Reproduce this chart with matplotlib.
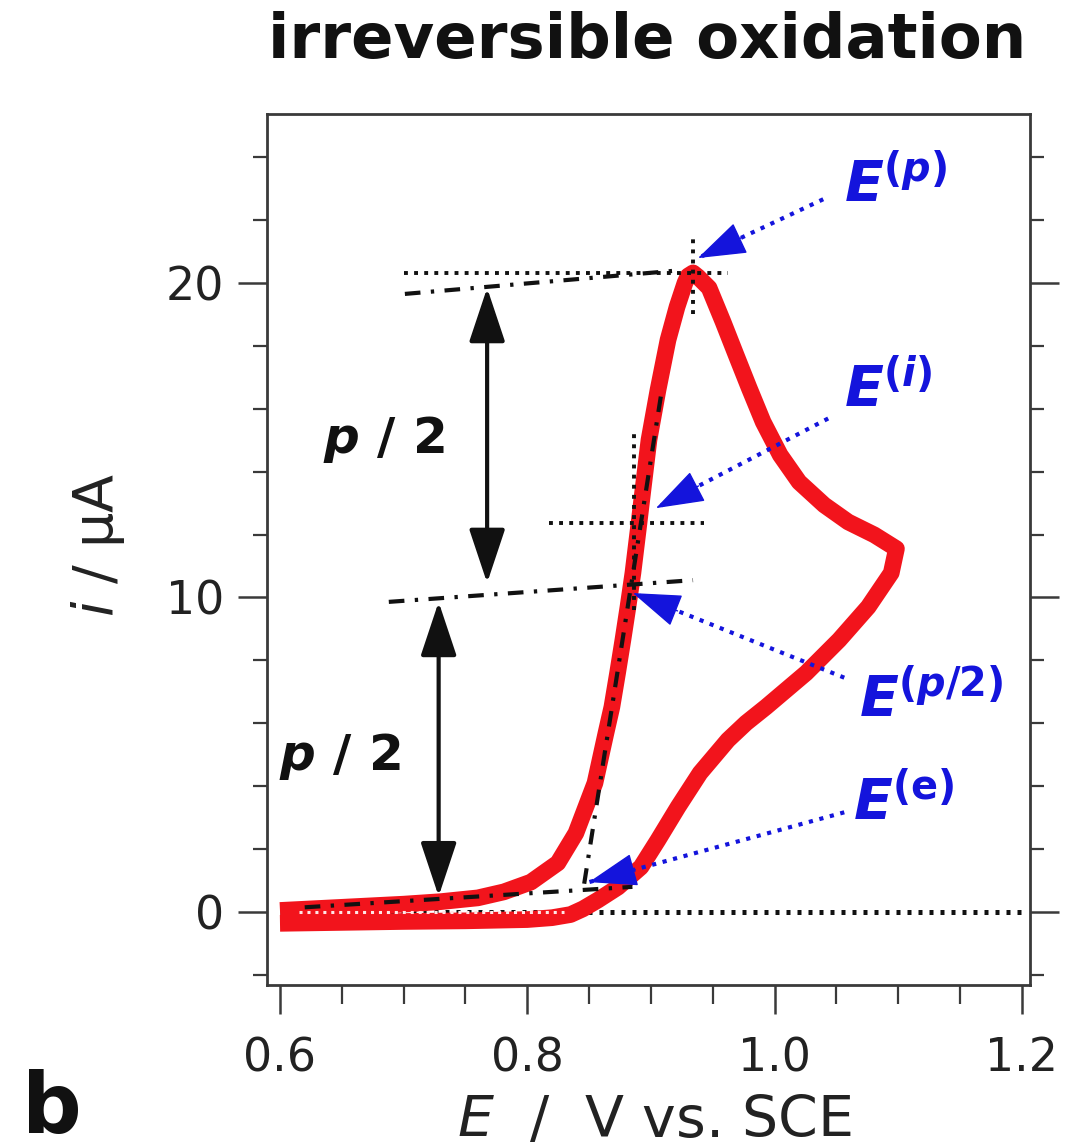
import numpy as np
import matplotlib
matplotlib.use("Agg")
import matplotlib.pyplot as plt
from matplotlib.ticker import MultipleLocator, FixedLocator
from matplotlib.patches import ArrowStyle

plt.rcParams.update({
    "font.family": "DejaVu Sans",
    "mathtext.fontset": "custom",
    "mathtext.rm": "DejaVu Sans:bold",
    "mathtext.it": "DejaVu Sans:italic",
    "mathtext.bf": "DejaVu Sans:bold:italic",
    "mathtext.sf": "DejaVu Sans:bold",
})

# ---- cyclic voltammogram: forward (anodic) and reverse scans ----
E_fwd = [0.600, 0.650, 0.700, 0.730, 0.760, 0.781, 0.8028, 0.8247, 0.8393,
         0.8547, 0.8636, 0.8684, 0.8730, 0.8773, 0.8814, 0.8854, 0.8895,
         0.8935, 0.8984, 0.9057, 0.9138, 0.9211, 0.9275, 0.9300, 0.9340,
         0.9381, 0.9470, 0.9583, 0.9688, 0.9794, 0.9907, 1.0045, 1.0198,
         1.0401, 1.0595, 1.0806, 1.0985]
i_fwd = [0.05, 0.15, 0.25, 0.33, 0.45, 0.64, 0.95, 1.56, 2.51,
         4.10, 5.69, 6.52, 7.60, 8.65, 9.70, 10.78, 12.10,
         13.42, 15.01, 16.60, 18.19, 19.24, 20.00, 20.22, 20.32,
         20.19, 19.84, 18.76, 17.71, 16.66, 15.58, 14.53, 13.67,
         12.94, 12.40, 11.99, 11.55]

E_rev = [1.0985, 1.0943, 1.0757, 1.0522, 1.0255, 0.9931, 0.9769, 0.9623,
         0.9397, 0.9219, 0.9057, 0.8919, 0.8733, 0.8571, 0.845, 0.835,
         0.820, 0.800, 0.750, 0.700, 0.650, 0.600]
i_rev = [11.55, 10.78, 9.70, 8.65, 7.60, 6.52, 6.01, 5.47,
         4.42, 3.34, 2.29, 1.43, 0.79, 0.38, 0.10, -0.08,
         -0.18, -0.24, -0.28, -0.30, -0.33, -0.36]

# ---- graphical construction ----
zero_E = [0.600, 1.205]
baseline_E = [0.620, 0.885]
baseline_i = [0.15, 0.80]
half_E = [0.688, 0.934]
half_i = [9.86, 10.55]
full_E = [0.701, 0.923]
full_i = [19.65, 20.40]
tangent_E = [0.846, 0.908]
tangent_i = [0.90, 16.40]

E_peak, i_peak = 0.934, 20.32
peak_h_E = [0.700, 0.962]
peak_v_i = [19.0, 21.55]
E_infl, i_infl = 0.886, 12.36
infl_h_E = [0.8174, 0.943]
infl_v_i = [9.6, 15.4]

# double arrows spanning p/2
span_E = [0.7675, 0.7283]
span_lo = [10.46, 0.50]
span_hi = [19.84, 9.86]

# characteristic potentials: label, arrow tail, arrow tip, label anchor
pot_labels = [r"$\mathbf{E}^{(\mathbf{p})}$", r"$\mathbf{E}^{(\mathbf{i})}$",
              r"$\mathbf{E}^{(\mathbf{p}/2)}$", r"$\mathbf{E}^{(\mathsf{e})}$"]
tail_E = [1.0393, 1.0433, 1.0563, 1.0563]
tail_i = [22.66, 15.69, 7.45, 3.17]
tip_E = [0.938, 0.904, 0.8854, 0.8498]
tip_i = [20.79, 12.84, 10.14, 0.95]
lab_E = [1.0563, 1.0563, 1.0684, 1.0636]
lab_i = [22.58, 16.06, 6.20, 2.93]

half_lab_E = [0.6344, 0.5988]
half_lab_i = [14.6, 4.52]

x_ticks = [0.6, 0.8, 1.0, 1.2]
x_ticklabels = ["0.6", "0.8", "1.0", "1.2"]
y_ticks = [0, 10, 20]
y_ticklabels = ["0", "10", "20"]

RED = "#f2141c"
BLUE = "#1414dc"
INK = "#111111"
AXC = "#3a3a3a"

fig = plt.figure(figsize=(10.79, 11.48), dpi=100)
ax = fig.add_axes([267 / 1079, 1 - 985 / 1148, (1030 - 267) / 1079, (985 - 114) / 1148])

ax.set_xlim(0.5895, 1.2065)
ax.set_ylim(-2.32, 25.37)

# zero-current line
ax.plot(zero_E, [0, 0], color=INK, lw=3.6, ls=(0, (0.8, 1.4)),
        dash_capstyle="butt", zorder=1)

# CV trace
E_cv = E_fwd + E_rev[1:]
i_cv = i_fwd + i_rev[1:]
ax.plot(E_cv, i_cv, color=RED, lw=12, solid_joinstyle="round",
        solid_capstyle="butt", zorder=2)
ax.plot([0.615, 0.83], [0, 0], color="#ffe6e6", lw=2.2, ls=(0, (1, 1.6)), zorder=2.5)

dashdot = (0, (3.75, 2.5, 0.8, 2.5))
for xs, ys in [(baseline_E, baseline_i), (half_E, half_i), (full_E, full_i),
               (tangent_E, tangent_i)]:
    ax.plot(xs, ys, color=INK, lw=3.0, ls=dashdot, zorder=3)

dots = (0, (1, 1.6))
ax.plot(peak_h_E, [i_peak, i_peak], color=INK, lw=2.8, ls=dots, zorder=3)
ax.plot([E_peak, E_peak], peak_v_i, color=INK, lw=2.8, ls=dots, zorder=3)
ax.plot(infl_h_E, [i_infl, i_infl], color=INK, lw=2.8, ls=dots, zorder=3)
ax.plot([E_infl, E_infl], infl_v_i, color=INK, lw=2.8, ls=dots, zorder=3)

# p/2 spans
dbl = ArrowStyle("<|-|>", head_length=0.42, head_width=0.14)
for e, lo, hi in zip(span_E, span_lo, span_hi):
    ax.annotate("", xy=(e, hi), xytext=(e, lo),
                arrowprops=dict(arrowstyle=dbl, mutation_scale=80, color=INK,
                                lw=3.0, shrinkA=0, shrinkB=0), zorder=4)
for e, i in zip(half_lab_E, half_lab_i):
    ax.text(e, i, r"$\mathbf{p}$ / 2", fontsize=36, fontweight="bold",
            color=INK, ha="left", va="baseline", zorder=5)

# potential markers: dotted leader plus a solid wedge head
head = ArrowStyle("-|>", head_length=1.05, head_width=0.36)
head_px = 48.0
for lab, te, ti, pe, pi, le, li in zip(pot_labels, tail_E, tail_i, tip_E, tip_i,
                                         lab_E, lab_i):
    ax.plot([te, pe], [ti, pi], color=BLUE, lw=3.0, ls=(0, (1, 1.6)),
            dash_capstyle="butt", zorder=5)
    p0 = ax.transData.transform((te, ti))
    p1 = ax.transData.transform((pe, pi))
    u = (p1 - p0) / np.hypot(*(p1 - p0))
    ax.annotate("", xy=(pe, pi), xytext=(-u[0] * head_px, -u[1] * head_px),
                textcoords="offset pixels",
                arrowprops=dict(arrowstyle=head, mutation_scale=30, color=BLUE,
                                lw=1.0, shrinkA=0, shrinkB=0), zorder=6)
    ax.text(le, li, lab, fontsize=41, color=BLUE, ha="left", va="baseline", zorder=6)

# axes styling
ax.xaxis.set_major_locator(FixedLocator(x_ticks))
ax.set_xticklabels(x_ticklabels)
ax.xaxis.set_minor_locator(MultipleLocator(0.05))
ax.yaxis.set_major_locator(FixedLocator(y_ticks))
ax.set_yticklabels(y_ticklabels)
ax.yaxis.set_minor_locator(MultipleLocator(2))

for s in ax.spines.values():
    s.set_color(AXC)
    s.set_linewidth(2.0)
ax.tick_params(which="both", direction="out", right=True, top=False,
               color=AXC, labelcolor="#222222", labelsize=33)
ax.tick_params(which="major", length=21, width=1.8)
ax.tick_params(axis="x", which="major", pad=16)
ax.tick_params(axis="y", which="major", pad=10)
ax.tick_params(axis="x", which="minor", length=14, width=1.6)
ax.tick_params(axis="y", which="minor", length=10, width=1.6)

fig.text(98 / 1079, 1 - 545 / 1148, r"$i$ / μA", fontsize=40, rotation=90,
         ha="center", va="center", color="#222222")
fig.text(654 / 1079, 1 - 1137 / 1148, r"$E$  /  V vs. SCE", fontsize=41,
         ha="center", va="baseline", color="#222222")
fig.text(647 / 1079, 1 - 58 / 1148, "irreversible oxidation", fontsize=45,
         fontweight="bold", ha="center", va="baseline", color=INK)
fig.text(21 / 1079, 1 - 1133 / 1148, r"$\mathsf{b}$", fontsize=60,
         ha="left", va="baseline", color=INK)

fig.savefig("out.png", dpi=100)
